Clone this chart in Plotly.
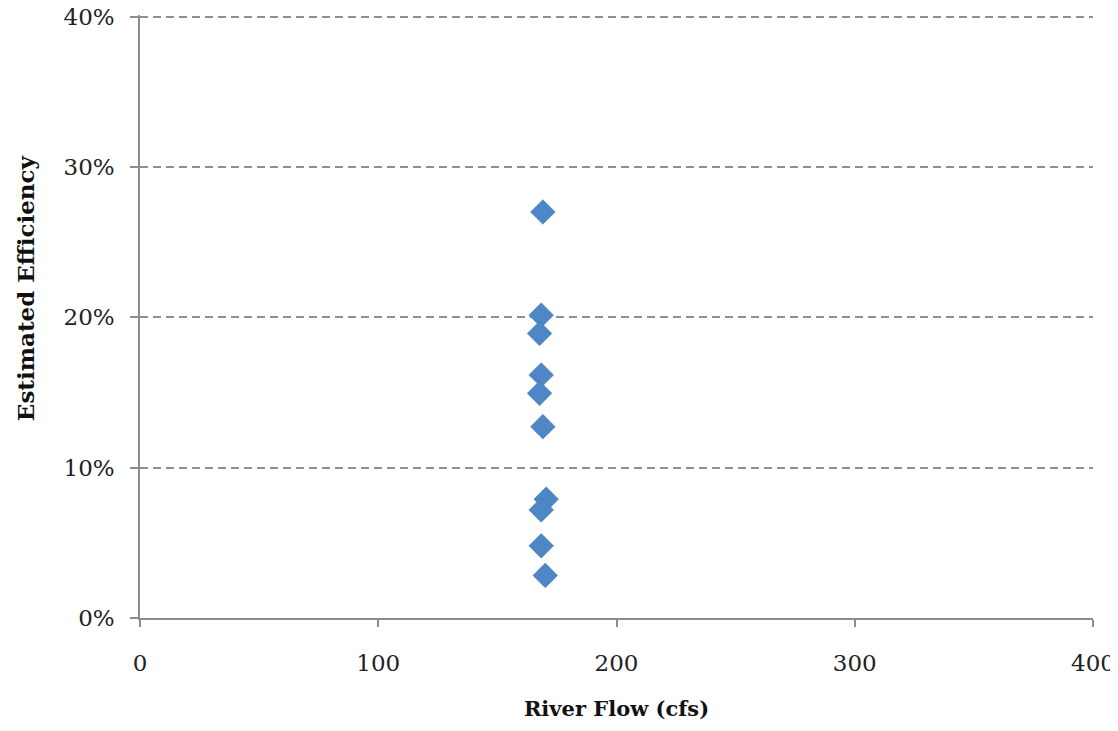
import plotly.graph_objects as go

river_flow = [169.1, 168.4, 167.7, 168.4, 167.7, 169.1, 170.5, 168.4, 168.4, 170.1]
efficiency = [0.270, 0.2014, 0.1892, 0.1616, 0.1494, 0.1272, 0.0790, 0.0719, 0.0480, 0.0283]

x_ticks = [0, 100, 200, 300, 400]
y_ticks = [0, 0.1, 0.2, 0.3, 0.4]
y_tick_labels = ["0%", "10%", "20%", "30%", "40%"]

fig = go.Figure()
fig.add_trace(go.Scatter(
    x=river_flow, y=efficiency, mode="markers",
    marker=dict(symbol="diamond", size=19, color="#4F86C6",
                line=dict(width=0.5, color="#4577b3")),
    showlegend=False, cliponaxis=False,
))

font_family = "DejaVu Serif"
fig.update_layout(
    width=1110, height=715,
    paper_bgcolor="white", plot_bgcolor="white",
    margin=dict(l=132, r=25, t=7, b=105),
    font=dict(family=font_family, color="#222222"),
    xaxis=dict(
        range=[0, 400], tickvals=x_ticks, showgrid=False, zeroline=False,
        automargin=False, ticklabeloverflow="allow",
        showline=True, linecolor="#8c8c8c", linewidth=1.5,
        ticks="outside", ticklen=7, tickcolor="#8c8c8c", tickwidth=1.5,
        tickfont=dict(size=23, family=font_family, color="#222222"),
        ticklabelstandoff=17,
        title=dict(text="<b>River Flow (cfs)</b>",
                   font=dict(size=21, family=font_family, color="#111111"),
                   standoff=26),
    ),
    yaxis=dict(
        range=[0, 0.401], tickvals=y_ticks, ticktext=y_tick_labels,
        automargin=False, ticklabeloverflow="allow",
        showgrid=True, gridcolor="#909090", griddash="8px,5px", gridwidth=1.5,
        zeroline=False,
        showline=True, linecolor="#8c8c8c", linewidth=1.5,
        ticks="outside", ticklen=8, tickcolor="#8c8c8c", tickwidth=1.5,
        tickfont=dict(size=23, family=font_family, color="#222222"),
        ticklabelstandoff=11,
    ),
    annotations=[dict(
        text="<b>Estimated Efficiency</b>", textangle=-90,
        xref="paper", yref="paper", x=-0.1207, y=0.547,
        xanchor="center", yanchor="middle", showarrow=False,
        font=dict(size=23, family=font_family, color="#111111"),
    )],
)

fig.write_html("out.html")
